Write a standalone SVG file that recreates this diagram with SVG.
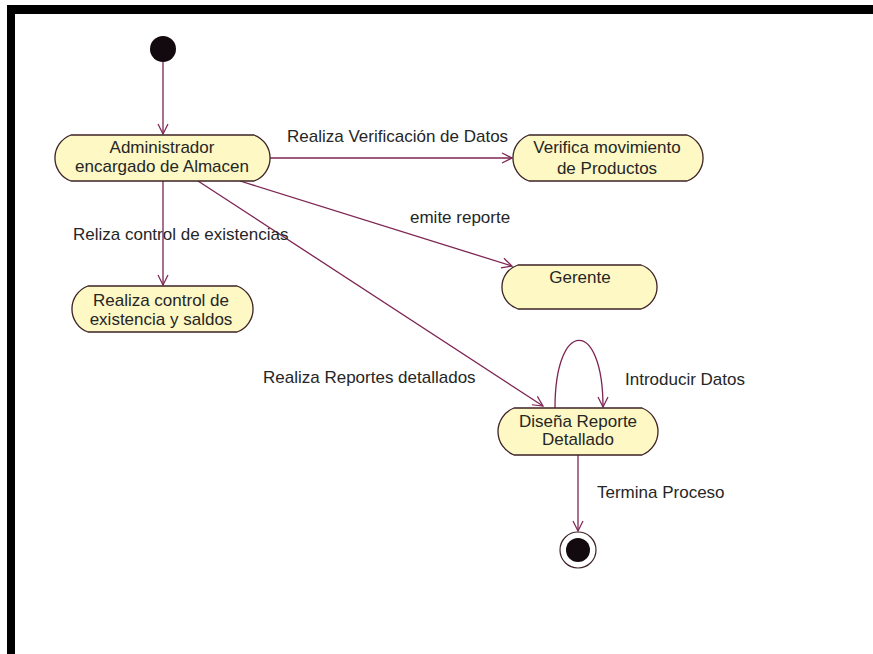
<svg xmlns="http://www.w3.org/2000/svg" width="873" height="654" viewBox="0 0 873 654">
  <defs>
    <marker id="open-arrow" markerWidth="12" markerHeight="12" refX="11" refY="6" orient="auto" markerUnits="userSpaceOnUse">
      <path d="M1,1 L11,6 L1,11" fill="none" stroke="#7d2452" stroke-width="1.2"/>
    </marker>
  </defs>
  <style>
    .frame { fill: #000000; }
    .activity { fill: #fdf8c4; stroke: #3d2226; stroke-width: 1.3; }
    .label { font-family: "Liberation Sans", Arial, sans-serif; font-size: 17px; fill: #262626; }
    .center { text-anchor: middle; }
    .flow { fill: none; stroke: #7d2452; stroke-width: 1.3; marker-end: url(#open-arrow); }
    .dot { fill: #120a0e; }
    .ring { fill: #ffffff; stroke: #3d2226; stroke-width: 1.2; }
  </style>

  <rect width="873" height="654" fill="#ffffff"/>

  <!-- frame -->
  <rect class="frame" x="7" y="5" width="866" height="9"/>
  <rect class="frame" x="7" y="5" width="8" height="649"/>

  <!-- transitions -->
  <g id="connectors">
    <path class="flow" d="M163,62 V134"/>
    <path class="flow" d="M270,158 H512"/>
    <path class="flow" d="M240,181 L512,266"/>
    <path class="flow" d="M163,181 V285"/>
    <path class="flow" d="M198,181 L543,406"/>
    <path class="flow" d="M555,408 C555,318 603,318 603,407"/>
    <path class="flow" d="M578,455 V531"/>
    <text class="label" x="287" y="142">Realiza Verificación de Datos</text>
    <text class="label" x="410" y="223">emite reporte</text>
    <text class="label" x="73" y="240">Reliza control de existencias</text>
    <text class="label" x="263" y="383">Realiza Reportes detallados</text>
    <text class="label" x="625" y="385">Introducir Datos</text>
    <text class="label" x="597" y="498">Termina Proceso</text>
  </g>

  <g id="start">
    <circle class="dot" cx="163" cy="49" r="13"/>
  </g>

  <g id="administrador">
    <path class="activity" d="M71,135 H254 A24.5,24.5 0 0 1 254,181 H71 A24.5,24.5 0 0 1 71,135 Z"/>
    <text class="label center" x="162" y="153">Administrador</text>
    <text class="label center" x="162" y="172">encargado de Almacen</text>
  </g>

  <g id="verifica">
    <path class="activity" d="M529,135 H687 A24.5,24.5 0 0 1 687,181 H529 A24.5,24.5 0 0 1 529,135 Z"/>
    <text class="label center" x="607" y="153">Verifica movimiento</text>
    <text class="label center" x="607" y="174">de Productos</text>
  </g>

  <g id="gerente">
    <path class="activity" d="M518,265 H641 A23.1,23.1 0 0 1 641,309 H518 A23.1,23.1 0 0 1 518,265 Z"/>
    <text class="label center" x="580" y="283">Gerente</text>
  </g>

  <g id="control">
    <path class="activity" d="M88,286 H237 A24.5,24.5 0 0 1 237,332 H88 A24.5,24.5 0 0 1 88,286 Z"/>
    <text class="label center" x="161" y="306">Realiza control de</text>
    <text class="label center" x="161" y="325">existencia y saldos</text>
  </g>

  <g id="disena">
    <path class="activity" d="M514,408 H642 A25.25,25.25 0 0 1 642,455 H514 A25.25,25.25 0 0 1 514,408 Z"/>
    <text class="label center" x="578" y="427">Diseña Reporte</text>
    <text class="label center" x="578" y="445">Detallado</text>
  </g>

  <g id="end">
    <circle class="ring" cx="578" cy="550" r="18"/>
    <circle class="dot" cx="578" cy="550" r="12"/>
  </g>
</svg>
